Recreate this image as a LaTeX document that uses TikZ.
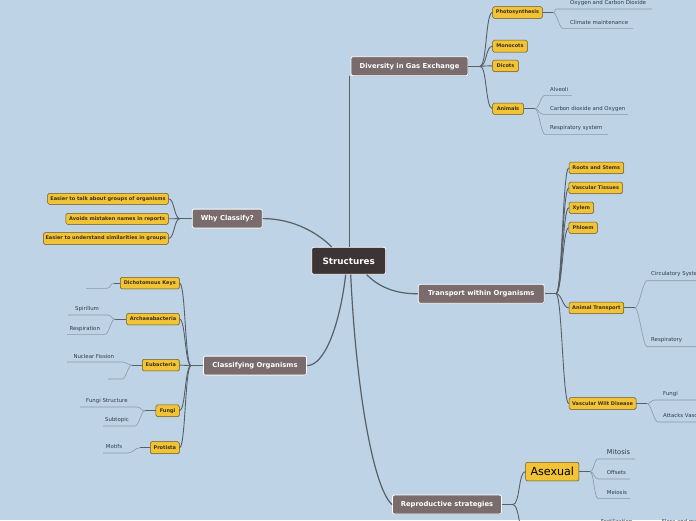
\documentclass[tikz,border=0pt]{standalone}
\usepackage{fontspec}
\setmainfont{DejaVu Sans}
\usetikzlibrary{shadows}
\definecolor{bg}{HTML}{BED3E6}
\definecolor{mauve}{HTML}{7A6B6D}
\definecolor{darkbox}{HTML}{3D3436}
\definecolor{yel}{HTML}{F2C335}
\definecolor{ybd}{HTML}{6B5A2A}
\definecolor{ytx}{HTML}{3A3020}
\definecolor{ltx}{HTML}{333B44}
\definecolor{lnc}{HTML}{575F67}
\definecolor{ulc}{HTML}{8C98A4}
\begin{document}
\begin{tikzpicture}[x=1pt,y=-1pt,
  mainbox/.style={draw=white, line width=0.8pt, fill=mauve, rounded corners=2pt, text=white,
    font=\fontsize{6.8}{8}\selectfont\bfseries, inner sep=0pt,
    drop shadow={shadow xshift=0.6pt, shadow yshift=-0.6pt, opacity=0.35}},
  ybox/.style={draw=ybd, line width=0.5pt, fill=yel, rounded corners=1.5pt, text=ytx,
    font=\fontsize{5}{6}\selectfont\bfseries, inner sep=0pt,
    drop shadow={shadow xshift=0.5pt, shadow yshift=-0.5pt, opacity=0.3}},
  leaf/.style={anchor=west, inner sep=0pt, text=ltx, font=\fontsize{5.4}{6}\selectfont},
  mainline/.style={draw=lnc, line width=1.2pt},
  br/.style={draw=lnc, line width=0.9pt},
  ul/.style={draw=ulc, line width=0.6pt}]
\useasboundingbox (0,0) rectangle (696,520);
\clip (0,0) rectangle (696,520);
\fill[bg] (0,0) rectangle (696,520);

% ---------- main nodes ----------
\node[mainbox, fill=darkbox, font=\fontsize{8.8}{10}\selectfont\bfseries, minimum width=74pt, minimum height=27pt] (str) at (348.7,260.8) {Structures};
\node[mainbox, minimum width=117pt, minimum height=19pt] (div) at (409.5,66.2) {Diversity in Gas Exchange};
\node[mainbox, minimum width=70pt, minimum height=19pt] (why) at (227.3,218.6) {Why Classify?};
\node[mainbox, minimum width=103pt, minimum height=19pt] (cls) at (255,365.6) {Classifying Organisms};
\node[mainbox, minimum width=126pt, minimum height=19pt] (tra) at (481.3,293.8) {Transport within Organisms};
\node[mainbox, minimum width=109pt, minimum height=19pt] (rep) at (447,504.5) {Reproductive strategies};

% ---------- yellow nodes ----------
\node[ybox, minimum width=49.6pt, minimum height=11.6pt] (photo) at (517.5,12.5) {Photosynthesis};
\node[ybox, minimum width=34.6pt, minimum height=12pt] (mono) at (510,46.2) {Monocots};
\node[ybox, minimum width=25.6pt, minimum height=11.6pt] (dico) at (505.5,65.8) {Dicots};
\node[ybox, minimum width=30.6pt, minimum height=11.4pt] (anim) at (508,108.7) {Animals};
\node[ybox, minimum width=54.6pt, minimum height=11.6pt] (roots) at (596.3,167.9) {Roots and Stems};
\node[ybox, minimum width=53.3pt, minimum height=11.6pt] (vtis) at (595.6,187.9) {Vascular Tissues};
\node[ybox, minimum width=24.6pt, minimum height=11.3pt] (xyl) at (581.3,207.7) {Xylem};
\node[ybox, minimum width=28.3pt, minimum height=11.3pt] (phl) at (583.1,227.7) {Phloem};
\node[ybox, minimum width=54.6pt, minimum height=11.6pt] (atr) at (596.3,307.9) {Animal Transport};
\node[ybox, minimum width=67pt, minimum height=11.6pt] (vwd) at (602.5,403.5) {Vascular Wilt Disease};
\node[ybox, minimum width=120.6pt, minimum height=11pt] (w1) at (108,198.8) {Easier to talk about groups of organisms};
\node[ybox, minimum width=102.3pt, minimum height=11pt] (w2) at (117.1,218.8) {Avoids mistaken names in reports};
\node[ybox, minimum width=125pt, minimum height=11.6pt] (w3) at (105.8,238.5) {Easier to understand similarities in groups};
\node[ybox, minimum width=59pt, minimum height=11.7pt] (dk) at (149.8,283.1) {Dichotomous Keys};
\node[ybox, minimum width=52.6pt, minimum height=11.7pt] (arc) at (153,319.1) {Archaeabacteria};
\node[ybox, minimum width=37pt, minimum height=11.7pt] (eub) at (160.8,365.1) {Eubacteria};
\node[ybox, minimum width=23.3pt, minimum height=11.7pt] (fun) at (167.6,410.8) {Fungi};
\node[ybox, minimum width=29pt, minimum height=12pt] (pro) at (164.8,447.7) {Protista};
\node[ybox, font=\fontsize{11.1}{13}\selectfont, text=black, rounded corners=2pt, minimum width=53.3pt, minimum height=18.7pt] (ase) at (552.3,471.6) {Asexual};

% ---------- leaf texts ----------
\node[leaf] (oxy) at (570,2.7) {Oxygen and Carbon Dioxide};
\node[leaf] (cli) at (570,22) {Climate maintenance};
\node[leaf] (alv) at (550,89.3) {Alveoli};
\node[leaf] (cdo) at (550,109) {Carbon dioxide and Oxygen};
\node[leaf] (rsy) at (550,128) {Respiratory system};
\node[leaf] (cir) at (651,274) {Circulatory System};
\node[leaf] (res) at (651,340) {Respiratory};
\node[leaf] (fng) at (663,394) {Fungi};
\node[leaf] (atv) at (663,415.7) {Attacks Vascular Tissue};
\node[leaf, font=\fontsize{6.7}{8}\selectfont] (mit) at (606.7,451.7) {Mitosis};
\node[leaf] (off) at (606.7,472.3) {Offsets};
\node[leaf] (mei) at (606.7,492) {Meiosis};
\node[leaf] (fer) at (600.7,521) {Fertilization};
\node[leaf] (flo) at (661.7,521) {Flora and more};
\node[leaf] (spi) at (75,309) {Spirillum};
\node[leaf] (rsp) at (69.3,329) {Respiration};
\node[leaf] (nuc) at (73.3,356) {Nuclear Fission};
\node[leaf] (fst) at (86,401) {Fungi Structure};
\node[leaf] (sub) at (105,420) {Subtopic};
\node[leaf] (mot) at (105.7,446.7) {Motifs};

% ---------- coordinates ----------
\coordinate (divJ) at (480,66.2);
\coordinate (traJ) at (556,293.8);
\coordinate (whyJ) at (180,218.6);
\coordinate (clsJ) at (191,365.6);
\coordinate (repJ) at (513,504.5);
\coordinate (sexoff) at (527,545);
\coordinate (photoJ) at (553,12.5);
\coordinate (animJ) at (535,108.7);
\coordinate (atrJ) at (635,307.9);
\coordinate (vwdJ) at (647,403.5);
\coordinate (aseJ) at (590,471.6);
\coordinate (dkJ) at (114,283.1);
\coordinate (arcJ) at (115,319.1);
\coordinate (eubJ) at (132,365.1);
\coordinate (funJ) at (145,410.8);
\coordinate (proJ) at (140,447.7);

\coordinate (oxyA) at (557,9); \coordinate (oxyB) at (652,9);
\coordinate (cliA) at (563,28.3); \coordinate (cliB) at (633,28.3);
\coordinate (alvA) at (545,95.3); \coordinate (alvB) at (572,95.3);
\coordinate (cdoA) at (543,114.3); \coordinate (cdoB) at (628,114.3);
\coordinate (rsyA) at (545,134.3); \coordinate (rsyB) at (608,134.3);
\coordinate (cirA) at (647,280.7); \coordinate (cirB) at (700,280.7);
\coordinate (resA) at (647,346.7); \coordinate (resB) at (700,346.7);
\coordinate (fngA) at (655,400); \coordinate (fngB) at (700,400);
\coordinate (atvA) at (658,422); \coordinate (atvB) at (700,422);
\coordinate (mitA) at (598,459); \coordinate (mitB) at (635,459);
\coordinate (offA) at (598,479); \coordinate (offB) at (630,479);
\coordinate (meiA) at (598,498.3); \coordinate (meiB) at (630,498.3);
\coordinate (dklA) at (86,288.3); \coordinate (dklB) at (107,288.3);
\coordinate (spiA) at (68,315); \coordinate (spiB) at (108,315);
\coordinate (rspA) at (67,334.3); \coordinate (rspB) at (105,334.3);
\coordinate (nucA) at (67,362); \coordinate (nucB) at (122,362);
\coordinate (eulA) at (108,379); \coordinate (eulB) at (122,379);
\coordinate (fstA) at (80,407); \coordinate (fstB) at (137,407);
\coordinate (subA) at (103,426); \coordinate (subB) at (135,426);
\coordinate (motA) at (103,453); \coordinate (motB) at (128,453);

% ---------- main connectors ----------
\draw[mainline] ([xshift=0.5pt]str.north) -- ([xshift=0.5pt]str.north |- div.south);
\draw[mainline] (why.east) .. controls +(33,0) and +(-12,-12) .. ([xshift=-17pt]str.north);
\draw[mainline] ([xshift=-3pt]str.south) .. controls +(-6,50) and +(18,0) .. (cls.east);
\draw[mainline] ([xshift=18pt]str.south) .. controls +(14,14) and +(-20,0) .. (tra.west);
\draw[mainline] ([xshift=2pt]str.south) .. controls +(6,126) and +(-17,-14) .. (rep.west);

% ---------- branch connectors ----------
\draw[br] (div.east) -- (divJ);
\foreach \c in {photo,mono,dico,anim}
  \draw[br] (divJ) .. controls +(7,0) and +(-7,0) .. (\c.west);
\draw[br] (tra.east) -- (traJ);
\foreach \c in {roots,vtis,xyl,phl,atr,vwd}
  \draw[br] (traJ) .. controls +(6,0) and +(-6,0) .. (\c.west);
\draw[br] (why.west) -- (whyJ);
\foreach \c in {w1,w2,w3}
  \draw[br] (whyJ) .. controls +(-6,0) and +(6,0) .. (\c.east);
\draw[br] (cls.west) -- (clsJ);
\foreach \c in {dk,arc,eub,fun,pro}
  \draw[br] (clsJ) .. controls +(-6,0) and +(6,0) .. (\c.east);
\draw[br] (rep.east) -- (repJ);
\draw[br] (repJ) .. controls +(7,0) and +(-7,0) .. (ase.west);
\draw[br] (repJ) .. controls +(7,0) and +(-7,0) .. (sexoff);

\draw[br] (photo.east) -- (photoJ);
\draw[br] (anim.east) -- (animJ);
\draw[br] (atr.east) -- (atrJ);
\draw[br] (vwd.east) -- (vwdJ);
\draw[br] (ase.east) -- (aseJ);
\draw[br] (dk.west) -- (dkJ);
\draw[br] (arc.west) -- (arcJ);
\draw[br] (eub.west) -- (eubJ);
\draw[br] (fun.west) -- (funJ);
\draw[br] (pro.west) -- (proJ);

% ---------- leaf connectors and underlines ----------
\foreach \j/\l in {photoJ/oxy,photoJ/cli,animJ/alv,animJ/cdo,animJ/rsy,atrJ/cir,atrJ/res,vwdJ/fng,vwdJ/atv,aseJ/mit,aseJ/off,aseJ/mei}
  \draw[ul] (\j) .. controls +(4,0) and +(-4,0) .. (\l A) -- (\l B);
\foreach \j/\l in {dkJ/dkl,arcJ/spi,arcJ/rsp,eubJ/nuc,eubJ/eul,funJ/fst,funJ/sub,proJ/mot}
  \draw[ul] (\j) .. controls +(-4,0) and +(4,0) .. (\l B) -- (\l A);
\end{tikzpicture}
\end{document}
